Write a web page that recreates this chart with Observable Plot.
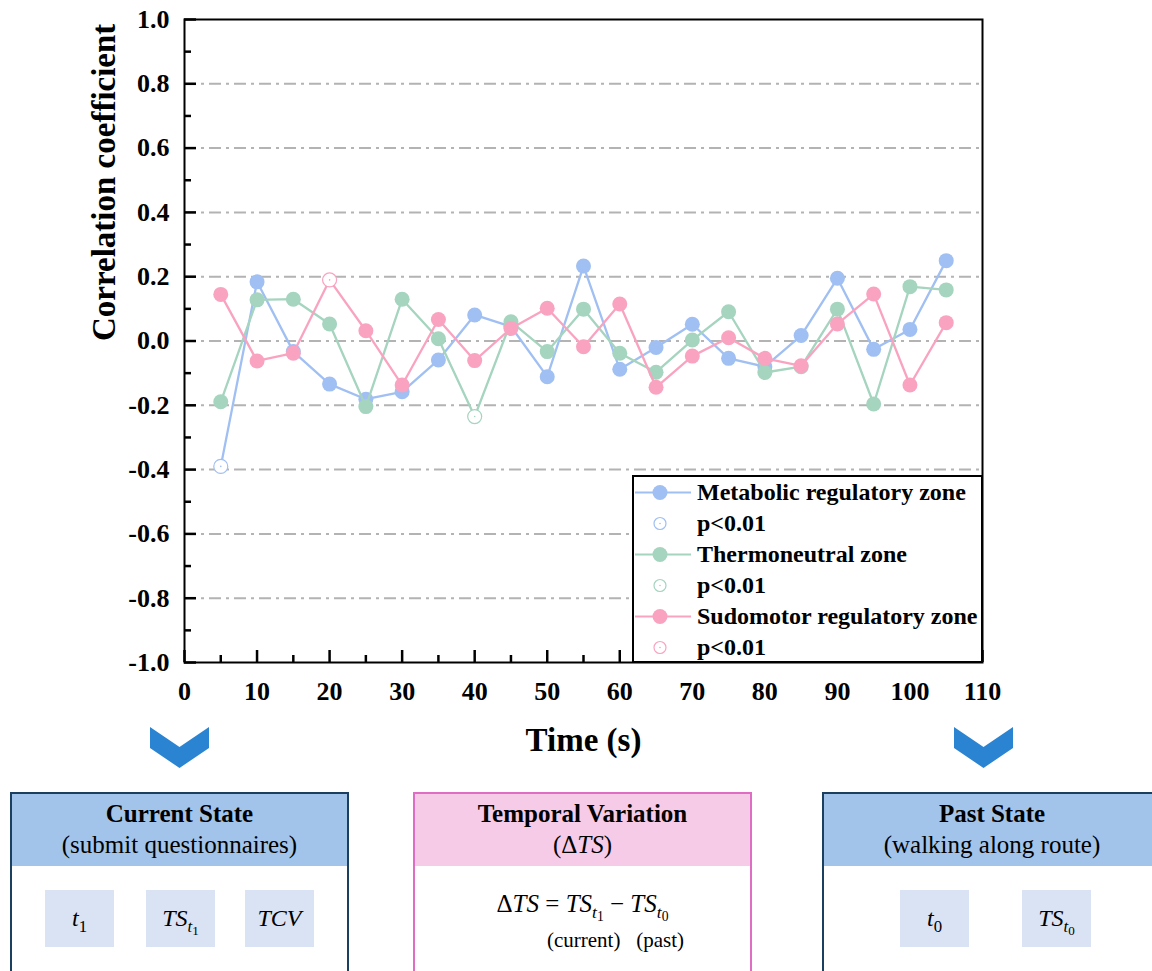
<!DOCTYPE html>
<html><head><meta charset="utf-8">
<script src="https://cdn.jsdelivr.net/npm/d3@7"></script>
<script src="https://cdn.jsdelivr.net/npm/@observablehq/plot@0.6"></script>
<style>
body{margin:0;background:#fff;font-family:"Liberation Serif",serif;color:#000;}
#wrap{position:relative;width:1152px;height:971px;overflow:hidden;background:#fff;}
#chart{position:absolute;left:0;top:0;}
#legend{position:absolute;left:632px;top:475px;width:347px;height:184px;border:2px solid #000;background:#fff;}
.lrow{height:31px;display:flex;align-items:center;font-weight:bold;font-size:24px;white-space:nowrap;}
.lrow svg{flex:none;margin-right:3px;}
.arrow{position:absolute;}
.box{position:absolute;top:792px;height:200px;border:2px solid #1b3f5e;background:#fff;}
.head{height:72px;text-align:center;font-size:25px;line-height:31px;padding-top:4px;box-sizing:border-box;}
.head b{font-weight:bold;}
.cell{position:absolute;top:96px;width:69px;height:57px;background:#dae3f3;display:flex;align-items:center;justify-content:center;font-size:24px;}
.m{font-family:"Liberation Serif",serif;font-style:italic;}
.m sub{font-size:70%;vertical-align:-0.35em;line-height:0;font-style:italic;}
.m sub sub{font-size:78%;font-style:normal;vertical-align:-0.25em;}
.m .n{font-style:normal;}
</style></head><body>
<div id="wrap">
<div id="chart"></div>
<div id="legend"></div>
<svg class="arrow" style="left:150px;top:726px" width="60" height="43"><polygon points="0,1 29.5,21 59,1 59,22 29.5,42 0,22" fill="#2a84d2"/></svg>
<svg class="arrow" style="left:954px;top:726px" width="60" height="43"><polygon points="0,1 29.5,21 59,1 59,22 29.5,42 0,22" fill="#2a84d2"/></svg>
<div class="box" style="left:10px;width:335px;">
  <div class="head" style="background:#a3c4ea;"><b>Current State</b><br>(submit questionnaires)</div>
  <div class="cell m" style="left:33px;"><span>t<sub class="n">1</sub></span></div>
  <div class="cell m" style="left:134px;"><span>TS<sub>t<sub>1</sub></sub></span></div>
  <div class="cell m" style="left:233px;"><span>TCV</span></div>
</div>
<div class="box" style="left:413px;width:335px;border-color:#de6dc3;">
  <div class="head" style="background:#f5cbe8;"><b>Temporal Variation</b><br>(Δ<i>TS</i>)</div>
  <div class="m" style="position:absolute;left:0;width:335px;top:96px;text-align:center;font-size:25px;"><span class="n">Δ</span>TS <span class="n">=</span> TS<sub>t<sub>1</sub></sub> <span class="n">−</span> TS<sub>t<sub>0</sub></sub></div>
  <div style="position:absolute;left:132px;top:134px;font-size:21px;">(current)&nbsp;&nbsp; (past)</div>
</div>
<div class="box" style="left:822px;width:360px;">
  <div class="head" style="background:#a3c4ea;width:336px;"><b>Past State</b><br>(walking along route)</div>
  <div class="cell m" style="left:76px;"><span>t<sub class="n">0</sub></span></div>
  <div class="cell m" style="left:198px;"><span>TS<sub>t<sub>0</sub></sub></span></div>
</div>
</div>
<script>
// ---- data ----
const times = [5,10,15,20,25,30,35,40,45,50,55,60,65,70,75,80,85,90,95,100,105];
const metabolic = [-0.390,0.184,-0.033,-0.134,-0.181,-0.158,-0.059,0.081,0.045,-0.111,0.233,-0.088,-0.020,0.052,-0.054,-0.080,0.017,0.195,-0.026,0.036,0.250];
const thermoneutral = [-0.189,0.128,0.130,0.053,-0.204,0.130,0.007,-0.235,0.060,-0.033,0.099,-0.038,-0.097,0.003,0.091,-0.098,-0.080,0.099,-0.196,0.169,0.159];
const sudomotor = [0.145,-0.062,-0.038,0.190,0.032,-0.137,0.067,-0.061,0.039,0.102,-0.018,0.115,-0.144,-0.047,0.010,-0.054,-0.077,0.053,0.146,-0.137,0.057];
const seriesNames = ["Metabolic regulatory zone","Thermoneutral zone","Sudomotor regulatory zone"];
const seriesColors = ["#a0bff2","#a5d4bf","#f9a3c1"];
const significantTimes = [[5],[40],[20]]; // p<0.01 points per series
const yMajorTicks = [-1.0,-0.8,-0.6,-0.4,-0.2,0.0,0.2,0.4,0.6,0.8,1.0];
const yMinorTicks = [-0.9,-0.7,-0.5,-0.3,-0.1,0.1,0.3,0.5,0.7,0.9];
const yGrid = [-0.8,-0.6,-0.4,-0.2,0.0,0.2,0.4,0.6,0.8];
const xMajorTicks = [0,10,20,30,40,50,60,70,80,90,100,110];
const xMinorTicks = [5,15,25,35,45,55,65,75,85,95,105];
const xLabel = "Time (s)";
const yLabel = "Correlation coefficient";
const sigLabel = "p<0.01";

const allValues = [metabolic, thermoneutral, sudomotor];
const rows = [];
allValues.forEach((vals, s) => vals.forEach((v, i) => rows.push({series: s, t: times[i], v, sig: significantTimes[s].includes(times[i])})));

const font = "Liberation Serif";
const seriesMarks = [];
for (let s = 0; s < 3; s++) {
  const d = rows.filter(r => r.series === s);
  seriesMarks.push(
    Plot.line(d, {x: "t", y: "v", stroke: seriesColors[s], strokeWidth: 2.3}),
    Plot.dot(d.filter(r => !r.sig), {x: "t", y: "v", r: 7.5, fill: seriesColors[s], stroke: "none"}),
    Plot.dot(d.filter(r => r.sig), {x: "t", y: "v", r: 7, fill: "white", stroke: seriesColors[s], strokeWidth: 1.2}),
    Plot.dot(d.filter(r => r.sig), {x: "t", y: "v", r: 0.8, fill: seriesColors[s]})
  );
}

const chart = Plot.plot({
  width: 1152, height: 790,
  marginLeft: 184, marginRight: 170, marginTop: 19, marginBottom: 128,
  style: {fontFamily: font, background: "white", color: "black"},
  x: {domain: [0, 110]},
  y: {domain: [-1, 1]},
  marks: [
    Plot.ruleY(yGrid, {stroke: "#b3b3b3", strokeWidth: 2, strokeDasharray: "12,5,3,5"}),
    ...seriesMarks,
    Plot.frame({stroke: "black", strokeWidth: 2}),
    Plot.axisY({ticks: yMajorTicks, tickSize: 0, tickPadding: 15, tickFormat: d => d.toFixed(1), fontSize: 26, fontWeight: "bold", fontFamily: font, label: null}),
    Plot.axisY({ticks: yMajorTicks, tickSize: -12, fill: "none", strokeWidth: 2.5, label: null}),
    Plot.axisY({ticks: yMinorTicks, tickSize: -7, fill: "none", strokeWidth: 2.5, label: null}),
    Plot.axisX({ticks: xMajorTicks, tickSize: 0, tickPadding: 19, tickFormat: d => String(d), fontSize: 26, fontWeight: "bold", fontFamily: font, label: null}),
    Plot.axisX({ticks: xMajorTicks, tickSize: -12, fill: "none", strokeWidth: 2.5, label: null}),
    Plot.axisX({ticks: xMinorTicks, tickSize: -7, fill: "none", strokeWidth: 2.5, label: null}),
    Plot.text([xLabel], {frameAnchor: "bottom", dy: 88, fontSize: 33, fontWeight: "bold", fontFamily: font}),
    Plot.text([yLabel], {frameAnchor: "left", rotate: -90, dx: -80, fontSize: 33, fontWeight: "bold", fontFamily: font})
  ]
});
document.getElementById("chart").appendChild(chart);

// ---- legend ----
const legend = document.getElementById("legend");
seriesNames.forEach((name, s) => {
  const c = seriesColors[s];
  const r1 = document.createElement("div");
  r1.className = "lrow";
  r1.innerHTML = `<svg width="60" height="31"><line x1="1" x2="57" y1="15.5" y2="15.5" stroke="${c}" stroke-width="2.2"/><circle cx="26" cy="15.5" r="7.5" fill="${c}"/></svg><span>${name}</span>`;
  legend.appendChild(r1);
  const r2 = document.createElement("div");
  r2.className = "lrow";
  r2.innerHTML = `<svg width="60" height="31"><circle cx="26" cy="15.5" r="6" fill="white" stroke="${c}" stroke-width="1.2"/><circle cx="26" cy="15.5" r="0.8" fill="${c}"/></svg><span>${sigLabel.replace("<","&lt;")}</span>`;
  legend.appendChild(r2);
});
</script>
</body></html>
